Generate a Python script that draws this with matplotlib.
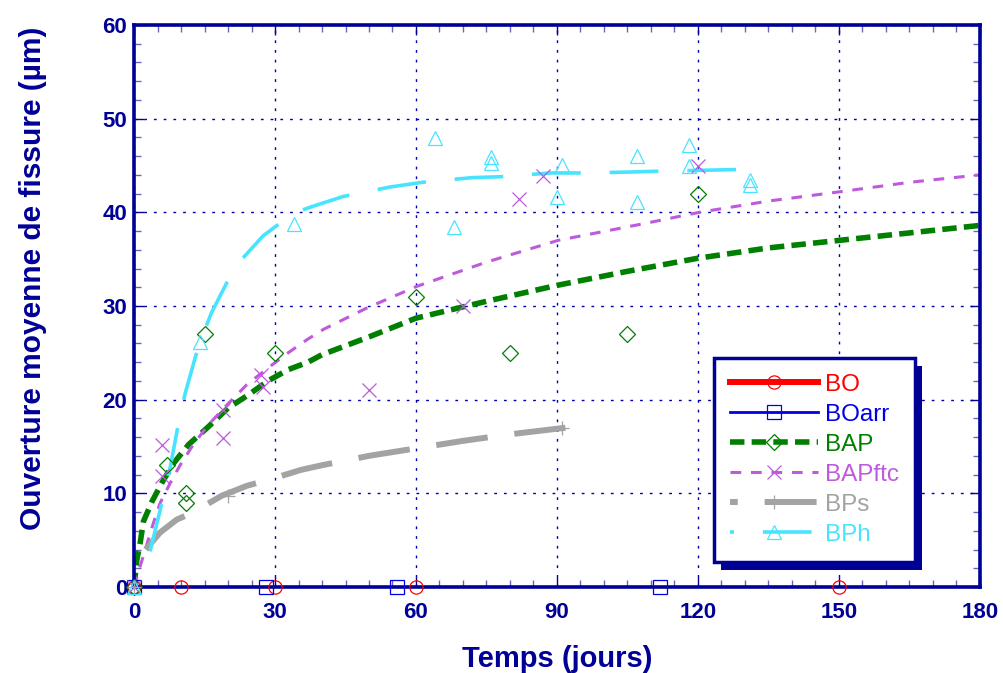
import matplotlib
matplotlib.use("Agg")
import matplotlib.pyplot as plt
from matplotlib.lines import Line2D
from matplotlib.patches import Rectangle
from matplotlib.transforms import IdentityTransform
from matplotlib.ticker import MultipleLocator

plt.rcParams['font.family'] = ['Liberation Sans', 'DejaVu Sans']

NAVY = '#000096'

# measured points (jours, ouverture en micrometres)
bo_x = [0, 10, 30, 60, 150]
bo_y = [0, 0, 0, 0, 0]
boarr_x = [0, 28, 56, 112]
boarr_y = [0, 0, 0, 0]
bap_x = [0, 7, 11, 11, 15, 30, 60, 80, 105, 120]
bap_y = [0, 13, 10, 9, 27, 25, 31, 25, 27, 42]
bapftc_x = [0, 6, 6, 19, 19, 27, 27.5, 50, 70, 82, 87, 120]
bapftc_y = [0, 15.2, 11.8, 15.9, 18.9, 22.6, 21.4, 21, 30, 41.4, 43.9, 44.9]
bps_x = [0, 20, 91]
bps_y = [0, 9.7, 17]
bph_x = [0, 14, 34, 64, 76, 76, 68, 91, 90, 107, 107, 118, 118, 131, 131]
bph_y = [0, 26.2, 38.8, 47.9, 45.9, 45.3, 38.4, 45.0, 41.6, 46.0, 41.1, 47.2, 44.9, 43.5, 42.9]

# fitted curves
bo_fit_x = [0, 150]
bo_fit_y = [0, 0]
bap_fit_x = [0, 0.6, 1.3, 2, 3.8, 5.9, 8.4, 11.6, 15.8, 20, 24.3, 28.5, 32.8, 37, 40,
             50, 60, 75, 90, 105, 120, 135, 150, 165, 180]
bap_fit_y = [0, 2.9, 4.7, 7.0, 9.1, 11.1, 13.2, 15.2, 17.1, 19.1, 20.5, 22.0, 23.2, 24.0, 24.8,
             26.7, 28.7, 30.5, 32.2, 33.7, 35.1, 36.2, 37.0, 37.8, 38.6]
bapftc_fit_x = [0, 1.3, 4.1, 5.5, 7.7, 9.8, 12.6, 15.8, 19.7, 24, 28.3, 32.5, 36.8, 40.3,
                49.6, 60.2, 75.1, 90.2, 109.6, 120.3, 135, 150.3, 165, 180]
bapftc_fit_y = [0, 2.2, 6.8, 8.9, 11.1, 13.0, 15.2, 17.3, 19.4, 21.6, 23.3, 24.9, 26.4, 27.5,
                29.8, 32.1, 34.7, 37.0, 38.9, 40.0, 41.2, 42.2, 43.2, 44.0]
bps_fit_x = [2.5, 5.5, 9.1, 12.3, 18.7, 24, 29.7, 35.5, 40, 50, 60, 70, 80, 91.8]
bps_fit_y = [4.0, 5.8, 7.2, 7.9, 9.75, 10.8, 11.6, 12.5, 13.0, 14.0, 14.8, 15.6, 16.3, 17.0]
bph_fit_x = [3.4, 5.9, 7.7, 9.4, 10.9, 13.7, 16.5, 21.5, 27.5, 33.9, 37.8, 44.6, 54.5, 61.3,
             71.9, 78, 88.6, 95.4, 105.7, 112, 122.3, 131.6]
bph_fit_y = [3.8, 8.9, 12.8, 17.3, 20.7, 25.7, 29.3, 34.2, 37.5, 39.9, 40.6, 41.7, 42.7, 43.2,
             43.7, 43.8, 44.2, 44.2, 44.3, 44.4, 44.5, 44.6]

series = [
    # label, color, marker, lw, dashes, legend dash offset, points, fit
    ('BO', '#FF0000', 'o', 4.3, None, 0, (bo_x, bo_y), (bo_fit_x, bo_fit_y)),
    ('BOarr', '#0000E6', 's', 2.0, None, 0, (boarr_x, boarr_y), None),
    ('BAP', '#007F00', 'D', 4.0, (2.6, 1.3), 0, (bap_x, bap_y), (bap_fit_x, bap_fit_y)),
    ('BAPftc', '#BE5ADC', 'x', 2.2, (3.5, 3.2), 0, (bapftc_x, bapftc_y), (bapftc_fit_x, bapftc_fit_y)),
    ('BPs', '#A3A3A3', '+', 4.3, (8.7, 4.5), 7.4, (bps_x, bps_y), (bps_fit_x, bps_fit_y)),
    ('BPh', '#48E4FF', '^', 2.6, (13.5, 8.0), 12.4, (bph_x, bph_y), (bph_fit_x, bph_fit_y)),
]
msizes = {'o': 9.5, 's': 9.5, 'D': 8, 'x': 10, '+': 10, '^': 10.5}

fig = plt.figure(figsize=(10.04, 6.73), dpi=100)
ax = fig.add_axes([0.1335, 0.1278, 0.8425, 0.8351])

handles = []
for label, color, marker, lw, dashes, off, pts, fit in series:
    ls = '-' if dashes is None else (0, dashes)
    if fit is not None and label != 'BO':
        ax.plot(fit[0], fit[1], color=color, lw=lw, linestyle=ls, zorder=2,
                solid_capstyle='butt')
    ax.plot(pts[0], pts[1], linestyle='none', marker=marker, ms=msizes[marker],
            mfc='none', mec=color, mew=0.9, zorder=3, clip_on=False)
    hls = '-' if dashes is None else (off, dashes)
    handles.append(Line2D([], [], color=color, lw=lw, linestyle=hls, marker=marker,
                          ms=msizes[marker], mfc='none', mec=color, mew=0.9, label=label))

ax.set_xlim(0, 180)
ax.set_ylim(0, 60)
ax.xaxis.set_major_locator(MultipleLocator(30))
ax.xaxis.set_minor_locator(MultipleLocator(5))
ax.yaxis.set_major_locator(MultipleLocator(10))
ax.yaxis.set_minor_locator(MultipleLocator(2))

ax.grid(True, which='major', color='#0000B0', lw=1.0, linestyle=(0, (2.0, 5.0)))
for s in ax.spines.values():
    s.set_color(NAVY)
    s.set_linewidth(2.6)
ax.tick_params(which='both', direction='in', top=True, right=True, color=NAVY)
ax.tick_params(which='major', length=7, width=1.0)
ax.tick_params(which='minor', length=5, width=1.0, color='#6666C0')
ax.tick_params(axis='x', which='major', pad=11, labelsize=16, labelcolor=NAVY)
ax.tick_params(axis='y', which='major', pad=5, labelsize=16, labelcolor=NAVY)
for t in ax.get_xticklabels() + ax.get_yticklabels():
    t.set_fontweight('bold')

ax.set_xlabel('Temps (jours)', fontsize=21, fontweight='bold', color=NAVY, labelpad=16)
ax.set_ylabel('Ouverture moyenne de fissure (µm)', fontsize=21.5, fontweight='bold',
              color=NAVY)
ax.yaxis.set_label_coords(-0.103, 0.55)

leg = ax.legend(handles=handles, loc='lower left', bbox_to_anchor=(0.686, 0.0445),
                fontsize=17.5, labelcolor='linecolor', frameon=True, fancybox=False,
                framealpha=1, edgecolor=NAVY, handlelength=3.6, handletextpad=0.3,
                labelspacing=0.33, borderpad=0.66, borderaxespad=0)
leg.get_frame().set_linewidth(2.5)
leg.set_zorder(6)

# offset drop shadow behind the legend box
fig.canvas.draw()
bb = leg.get_window_extent()
shadow = Rectangle((bb.x0 + 7, bb.y0 - 8), bb.width, bb.height, transform=IdentityTransform(),
                   facecolor=NAVY, edgecolor='none', zorder=5.5, clip_on=False)
ax.add_patch(shadow)

fig.savefig('out.png', dpi=100)
